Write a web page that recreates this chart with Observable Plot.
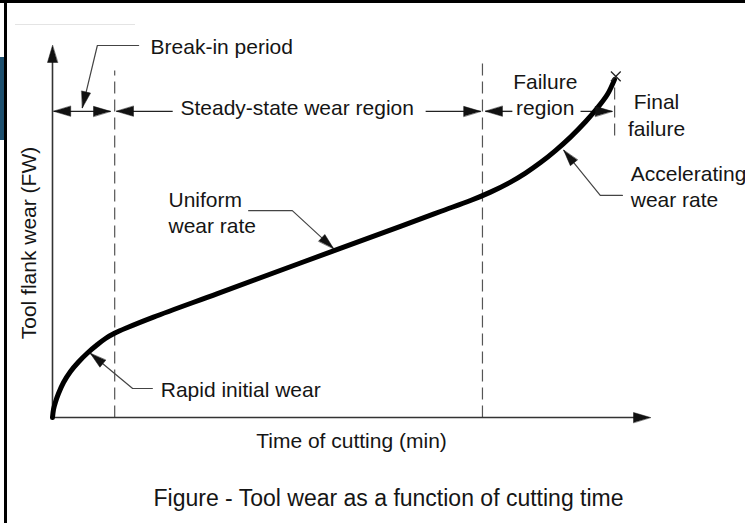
<!DOCTYPE html>
<html>
<head>
<meta charset="utf-8">
<script src="https://cdn.jsdelivr.net/npm/d3@7"></script>
<script src="https://cdn.jsdelivr.net/npm/@observablehq/plot@0.6"></script>
<style>
  html, body { margin: 0; padding: 0; background: #fff; }
  #wrap { position: relative; width: 745px; height: 523px; overflow: hidden; background: #fff;
          font-family: "Liberation Sans", Arial, Helvetica, sans-serif; color: #151515; }
  #chart { position: absolute; left: 0; top: 0; }
  #caption { position: absolute; left: 16px; top: 487px; width: 745px; text-align: center;
             font-size: 23px; line-height: 23px; color: #151515; }
  .frame-top { position: absolute; left: 0; top: 0; width: 745px; height: 3px; background: #000; }
  .frame-left { position: absolute; left: 4px; top: 0; width: 3px; height: 523px; background: #000; }
  .strip { position: absolute; left: 0; top: 57px; width: 4px; height: 83px; background: #1d4f6e; }
  .faint { position: absolute; left: 15px; top: 24px; width: 120px; height: 1px; background: #e4e4e4; }
</style>
</head>
<body>
<div id="wrap">
  <div id="chart"></div>
  <div id="caption">Figure - Tool wear as a function of cutting time</div>
  <div class="faint"></div>
  <div class="strip"></div>
  <div class="frame-top"></div>
  <div class="frame-left"></div>
</div>
<script>
// ---- data (conceptual units: time 0..100, flank wear 0..100) ----
const cutTime = [0, 0.167, 0.502, 1.003, 1.839, 3.010, 4.348, 5.853, 7.525, 8.863, 10.368, 12.542, 16.89, 27.59, 41.47, 58.19, 64.88, 69.90, 73.24, 76.59, 79.10, 81.61, 84.11, 86.62, 89.13, 91.14, 92.81, 93.98];
const flankWear = [0, 2.15, 4.17, 6.45, 9.41, 12.37, 14.92, 17.34, 19.62, 21.24, 22.63, 24.19, 26.99, 33.31, 41.53, 51.40, 55.38, 58.33, 60.59, 63.28, 65.70, 68.52, 71.75, 75.38, 79.49, 83.25, 86.88, 90.83];
const failurePoint = [94.2, 91.7];

// region boundaries (dashed)
const boundaryX = [10.4, 71.9, 94.0];
const boundaryY1 = [0, 0, 75.8];
const boundaryY2 = [93.3, 95.4, 89.2];

// region span arrows
const spanY = 82.3;
const spanShafts = [[0.2, 9.7], [10.7, 20.1], [62.4, 71.6], [72.4, 76.9], [88.3, 93.6]];
const spanHeadsLeft = [0.2, 10.7, 72.4];
const spanHeadsRight = [9.7, 71.6, 93.6];

// axes
const axisXEnd = 100;
const axisYEnd = 100;

// annotation texts
const labels = ["Break-in period", "Steady-state wear region", "Failure\nregion", "Final\nfailure", "Uniform\nwear rate", "Rapid initial wear", "Accelerating\nwear rate"];
const labelX = [16.4, 21.4, 82.4, 101.0, 19.4, 18.1, 96.7];
const labelY = [97.6, 81.2, 81.2, 75.8, 49.7, 5.4, 56.7];
const labelAlign = ["start", "start", "middle", "middle", "start", "start", "start"];

// leader lines (text -> elbow -> arrow tip)
const leaders = [
  [[14.4, 100], [7.5, 100], [5.0, 83.3]],
  [[32.8, 55.6], [40.1, 55.6], [47.0, 45.4]],
  [[16.7, 7.8], [13.4, 7.8], [6.35, 17.2]],
  [[95.3, 59.7], [91.6, 59.7], [85.5, 71.8]]
];

const xTitle = "Time of cutting (min)";
const yTitle = "Tool flank wear (FW)";
const xTitlePos = [50.0, -8.3];
const yTitlePos = [-2.84, 46.9];

// ---- layout ----
const W = 745, H = 470;
const mL = 52, mR = 95, mT = 45, mB = 53;
const xDom = [0, 100], yDom = [0, 100];
const sx = Plot.scale({x: {domain: xDom, range: [mL, W - mR]}});
const sy = Plot.scale({y: {domain: yDom, range: [H - mB, mT]}});
function heading(p, q) {
  const dx = sx.apply(q[0]) - sx.apply(p[0]);
  const dy = sy.apply(q[1]) - sy.apply(p[1]);
  return Math.atan2(dx, -dy) * 180 / Math.PI;
}

const curveData = cutTime.map((t, i) => ({t, w: flankWear[i]}));
const boundaries = boundaryX.map((x, i) => ({x, y1: boundaryY1[i], y2: boundaryY2[i]}));
const shafts = spanShafts.map(([a, b]) => ({x1: a, x2: b, y: spanY}));
const axes = [{x1: 0, y1: 0, x2: 0, y2: axisYEnd - 2}, {x1: 0, y1: 0, x2: axisXEnd - 2, y2: 0}];
const bigHeads = [
  ...spanHeadsLeft.map(x => ({x, y: spanY, rot: 270})),
  ...spanHeadsRight.map(x => ({x, y: spanY, rot: 90})),
  {x: 0, y: axisYEnd, rot: 0},
  {x: axisXEnd, y: 0, rot: 90}
];
const leaderRows = leaders.flatMap((pts, k) => pts.map(([x, y]) => ({k, x, y})));
const leaderHeads = leaders.map(pts => {
  const n = pts.length;
  return {x: pts[n - 1][0], y: pts[n - 1][1], rot: heading(pts[n - 2], pts[n - 1])};
});
const labelData = labels.map((s, i) => ({s, x: labelX[i], y: labelY[i], a: labelAlign[i]}));

const headShape = {
  draw(ctx, l, r) { ctx.moveTo(0, -l); ctx.lineTo(-r, 0); ctx.lineTo(r, 0); ctx.closePath(); }
};

const ink = "#151515";
const textOpts = {x: "x", y: "y", text: "s", lineAnchor: "bottom", lineHeight: 1.24, fontSize: 21, fill: ink};
const chart = Plot.plot({
  width: W, height: H,
  marginLeft: mL, marginRight: mR, marginTop: mT, marginBottom: mB,
  x: {domain: xDom, axis: null},
  y: {domain: yDom, axis: null},
  style: {fontFamily: '"Liberation Sans", Arial, Helvetica, sans-serif', color: ink, background: "transparent"},
  marks: [
    Plot.link(boundaries, {x1: "x", x2: "x", y1: "y1", y2: "y2", stroke: "#555", strokeWidth: 1.2, strokeDasharray: "12,6"}),
    Plot.link(axes, {x1: "x1", y1: "y1", x2: "x2", y2: "y2", stroke: "#333", strokeWidth: 1.6}),
    Plot.link(shafts, {x1: "x1", x2: "x2", y1: "y", y2: "y", stroke: "#222", strokeWidth: 1.4}),
    Plot.line(leaderRows, {x: "x", y: "y", z: "k", stroke: "#444", strokeWidth: 1.2}),
    Plot.line(curveData, {x: "t", y: "w", curve: "catmull-rom", stroke: "#000", strokeWidth: 5, strokeLinecap: "round"}),
    Plot.vector(bigHeads, {x: "x", y: "y", rotate: "rot", length: 17, r: 5, anchor: "end", shape: headShape, fill: "#111", stroke: "#111", strokeWidth: 0.5}),
    Plot.vector(leaderHeads, {x: "x", y: "y", rotate: "rot", length: 16, r: 4.5, anchor: "end", shape: headShape, fill: "#111", stroke: "#111", strokeWidth: 0.5}),
    Plot.dot([failurePoint], {x: d => d[0], y: d => d[1], symbol: "times", r: 4.5, stroke: "#222", strokeWidth: 1.3}),
    Plot.text(labelData, {...textOpts, filter: d => d.a === "start", textAnchor: "start"}),
    Plot.text(labelData, {...textOpts, filter: d => d.a === "middle", textAnchor: "middle"}),
    Plot.text([xTitle], {x: xTitlePos[0], y: xTitlePos[1], text: d => d, textAnchor: "middle", lineAnchor: "bottom", fontSize: 21, fill: ink}),
    Plot.text([yTitle], {x: yTitlePos[0], y: yTitlePos[1], text: d => d, textAnchor: "middle", lineAnchor: "bottom", rotate: -90, fontSize: 21, fill: ink})
  ]
});
document.getElementById("chart").appendChild(chart);
</script>
</body>
</html>
